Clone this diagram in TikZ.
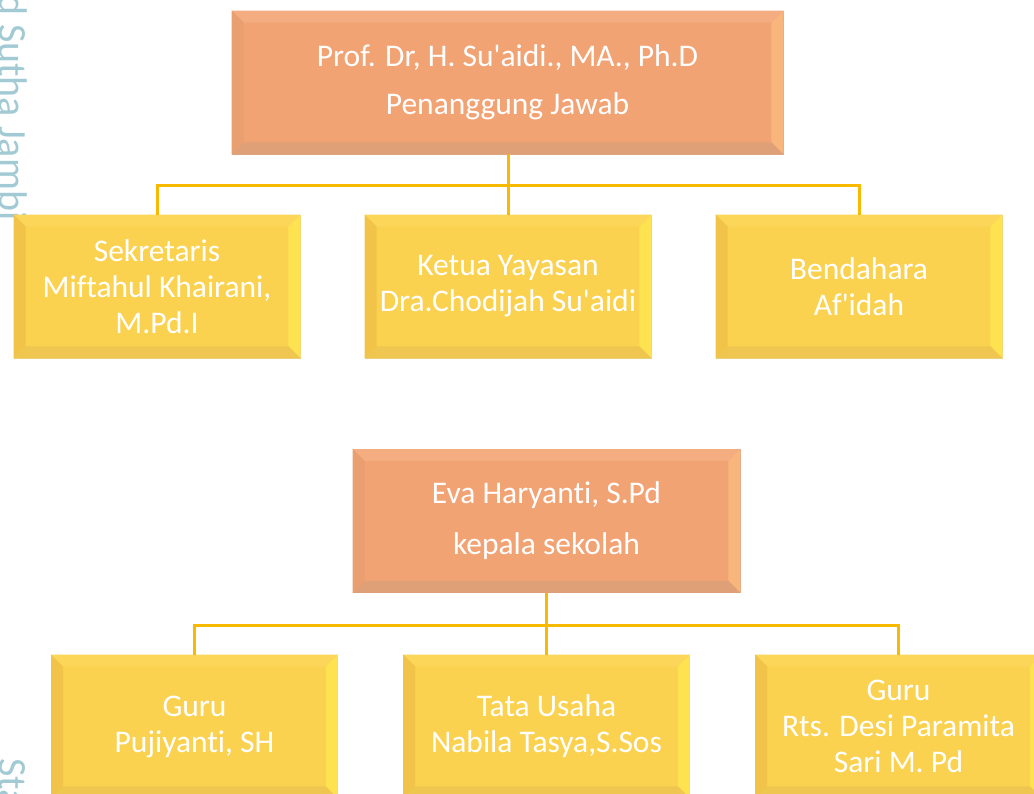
\documentclass[tikz,border=0pt]{standalone}
\usepackage{fontspec}
\setmainfont{Carlito}[Ligatures=NoCommon]
\usetikzlibrary{calc}
\definecolor{orbody}{HTML}{F2A374}
\definecolor{ortop}{HTML}{F4AD80}
\definecolor{orright}{HTML}{F8B67C}
\definecolor{orbot}{HTML}{DFA078}
\definecolor{orleft}{HTML}{EA9F70}
\definecolor{orline}{HTML}{DDAA8A}
\definecolor{yebody}{HTML}{FBD24F}
\definecolor{yetop}{HTML}{FCD658}
\definecolor{yeright}{HTML}{FFE250}
\definecolor{yebot}{HTML}{EEC650}
\definecolor{yeleft}{HTML}{F1C449}
\definecolor{yeline}{HTML}{EBD48A}
\definecolor{linkc}{HTML}{F8BA00}
\definecolor{wmark}{HTML}{A2CAD4}
\newcommand\bevelit[6]{%
  \fill[#3] let \p1=(#1.north west), \p2=(#1.south east) in
    (\x1,\y1) -- (\x2,\y1) -- (\x2-#2,\y1-#2) -- (\x1+#2,\y1-#2) -- cycle;
  \fill[#4] let \p1=(#1.north west), \p2=(#1.south east) in
    (\x2,\y1) -- (\x2,\y2) -- (\x2-#2,\y2+#2) -- (\x2-#2,\y1-#2) -- cycle;
  \fill[#5] let \p1=(#1.north west), \p2=(#1.south east) in
    (\x2,\y2) -- (\x1,\y2) -- (\x1+#2,\y2+#2) -- (\x2-#2,\y2+#2) -- cycle;
  \fill[#6] let \p1=(#1.north west), \p2=(#1.south east) in
    (\x1,\y2) -- (\x1,\y1) -- (\x1+#2,\y1-#2) -- (\x1+#2,\y2+#2) -- cycle;
}
\begin{document}
\begin{tikzpicture}[x=1pt,y=-1pt,
  box/.style={minimum height=143pt, inner sep=0pt, text=white, align=center,
    font=\fontsize{31.5}{36}\selectfont},
  obox/.style={box, fill=orbody, draw=orline, line width=0.8pt},
  ybox/.style={box, fill=yebody, draw=yeline, line width=0.8pt, minimum width=286pt},
  link/.style={draw=linkc, line width=3pt},
  wm/.style={text=wmark, rotate=-90, anchor=base west, inner sep=0pt,
    font=\fontsize{40}{40}\selectfont}]
\useasboundingbox (0,0) rectangle (1034,794);
\clip (0,0) rectangle (1034,794);
\fill[white] (0,0) rectangle (1034,794);
% watermark fragments
\node[wm] (wm1) at (-1,-6) {d Sutha Jambi};
\node[wm] (wm2) at (-1,758) {Sta};
% boxes
\node[obox, minimum width=551pt] (top) at (507.5,82.5)
  {Prof. Dr, H. Su\textquotesingle aidi., MA., Ph.D\\[12pt]Penanggung Jawab};
\node[ybox] (s1) at (157,286.5) {Sekretaris\\Miftahul Khairani,\\M.Pd.I};
\node[ybox] (s2) at (508,286.5) {Ketua Yayasan\\Dra.Chodijah Su\textquotesingle aidi};
\node[ybox] (s3) at (859,286.5) {Bendahara\\Af\textquotesingle idah};
\node[obox, minimum width=387pt] (head) at (546.5,521)
  {Eva Haryanti, S.Pd\\[15pt]kepala sekolah};
\node[ybox] (t1) at (194.5,726.5) {Guru\\Pujiyanti, SH};
\node[ybox] (t2) at (546.5,726.5) {Tata Usaha\\Nabila Tasya,S.Sos};
\node[ybox] (t3) at (898.5,726.5) {Guru\\Rts. Desi Paramita\\Sari M. Pd};
% bevels
\bevelit{top}{12pt}{ortop}{orright}{orbot}{orleft}
\bevelit{head}{12pt}{ortop}{orright}{orbot}{orleft}
\foreach \bx in {s1,s2,s3,t1,t2,t3}{\bevelit{\bx}{12pt}{yetop}{yeright}{yebot}{yeleft}}
% connectors
\coordinate (j1) at ($(top.south)+(0.5,31)$);
\draw[link] (top.south) ++(0.5,0) -- (j1);
\draw[link] (j1) -| (s1.north);
\draw[link] (j1) -| (s3.north);
\draw[link] (j1) -- (s2.north);
\coordinate (j2) at ($(head.south)+(0,33)$);
\draw[link] (head.south) -- (j2);
\draw[link] (j2) -| (t1.north);
\draw[link] (j2) -| (t3.north);
\draw[link] (j2) -- (t2.north);
\end{tikzpicture}
\end{document}
